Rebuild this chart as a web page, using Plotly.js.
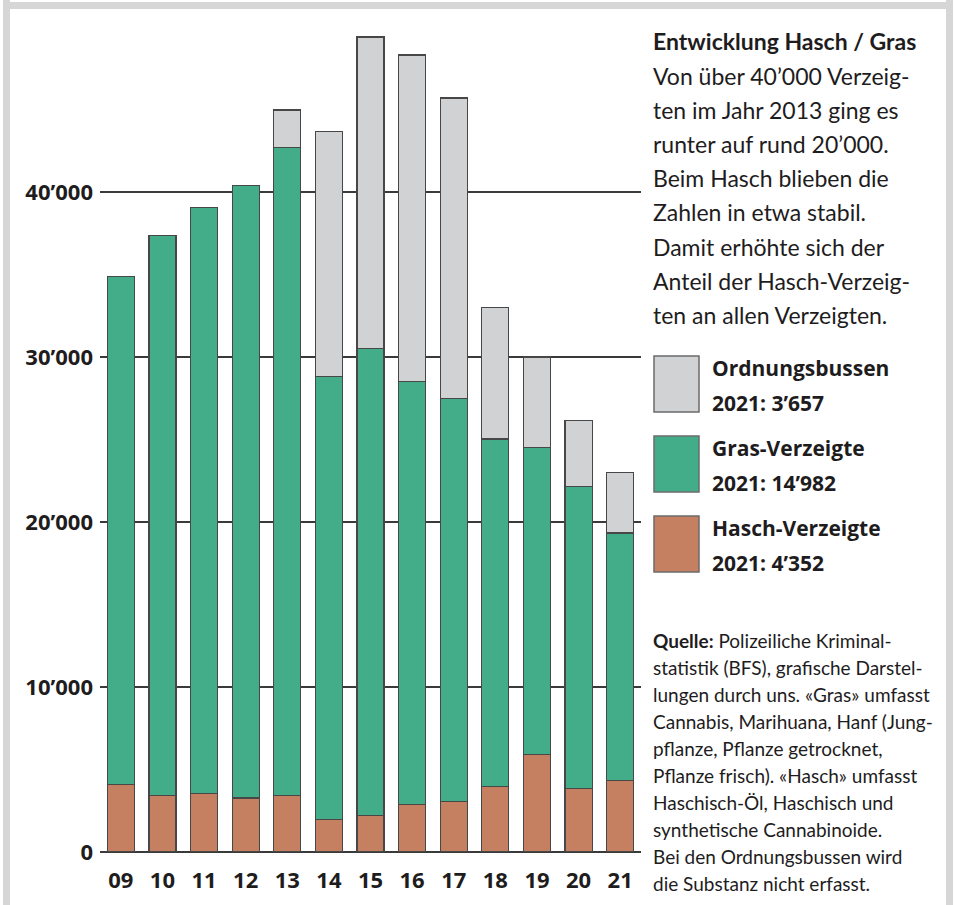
<!DOCTYPE html>
<html>
<head>
<meta charset="utf-8">
<script src="https://cdn.plot.ly/plotly-3.0.1.min.js"></script>
<style>
  html, body { margin: 0; padding: 0; background: #ffffff; }
  #chart { width: 955px; height: 905px; }
</style>
</head>
<body>
<div id="chart"></div>
<script>
// ---- Data ----
const years = ['09', '10', '11', '12', '13', '14', '15', '16', '17', '18', '19', '20', '21'];
const haschVerzeigte = [4080, 3430, 3530, 3270, 3430, 1960, 2220, 2890, 3070, 3960, 5900, 3840, 4352];
const grasVerzeigte = [30820, 33920, 35520, 37130, 39270, 26840, 28280, 25610, 24430, 21070, 18600, 18300, 14982];
const ordnungsbussen = [null, null, null, null, 2270, 14850, 18900, 19800, 18200, 7970, 5500, 4020, 3657];
const yTickVals = [0, 10000, 20000, 30000, 40000];
const yTickText = ['0', '10’000', '20’000', '30’000', '40’000'];
const seriesNames = ['Ordnungsbussen', 'Gras-Verzeigte', 'Hasch-Verzeigte'];

const titleText = 'Entwicklung Hasch / Gras';
const bodyLines = [
  'Von über 40’000 Verzeig-',
  'ten im Jahr 2013 ging es',
  'runter auf rund 20’000.',
  'Beim Hasch blieben die',
  'Zahlen in etwa stabil.',
  'Damit erhöhte sich der',
  'Anteil der Hasch-Verzeig-',
  'ten an allen Verzeigten.'
];
const sourceLines = [
  '<b>Quelle:</b> Polizeiliche Kriminal-',
  'statistik (BFS), grafische Darstel-',
  'lungen durch uns. «Gras» umfasst',
  'Cannabis, Marihuana, Hanf (Jung-',
  'pflanze, Pflanze getrocknet,',
  'Pflanze frisch). «Hasch» umfasst',
  'Haschisch-Öl, Haschisch und',
  'synthetische Cannabinoide.',
  'Bei den Ordnungsbussen wird',
  'die Substanz nicht erfasst.'
];

// ---- Styling ----
const colBussen = '#d1d2d4';
const colGras = '#43ac88';
const colHasch = '#c48060';
const outline = '#474747';
const textCol = '#1e1c1d';

// plot area in pixels: x 100..641, y 27..852
const L = 100, R = 641, T = 27, B = 852;
const px = p => (p - L) / (R - L);
const py = p => (B - p) / (B - T);

function fmt(n) {
  return String(n).replace(/\B(?=(\d{3})+(?!\d))/g, '’');
}
function last(arr) { return arr[arr.length - 1]; }

const barLine = { color: outline, width: 1.2 };
const traces = [
  { type: 'bar', x: years, y: haschVerzeigte, name: seriesNames[2],
    marker: { color: colHasch, line: barLine }, hoverinfo: 'x+y' },
  { type: 'bar', x: years, y: grasVerzeigte, name: seriesNames[1],
    marker: { color: colGras, line: barLine }, hoverinfo: 'x+y' },
  { type: 'bar', x: years, y: ordnungsbussen, name: seriesNames[0],
    marker: { color: colBussen, line: barLine }, hoverinfo: 'x+y' }
];

const annotations = [];
const bodyFont = { family: 'Lato, "Open Sans", sans-serif', size: 23, color: textCol };
annotations.push({ xref: 'paper', yref: 'paper', x: px(651), y: py(41), xanchor: 'left', yanchor: 'middle',
  text: '<b>' + titleText + '</b>', showarrow: false, font: bodyFont });
bodyLines.forEach((t, i) => {
  annotations.push({ xref: 'paper', yref: 'paper', x: px(651), y: py(75.5 + 34.2 * i), xanchor: 'left', yanchor: 'middle',
    text: t, showarrow: false, font: bodyFont });
});
const srcFont = { family: 'Lato, "Open Sans", sans-serif', size: 19, color: textCol };
sourceLines.forEach((t, i) => {
  annotations.push({ xref: 'paper', yref: 'paper', x: px(651), y: py(640 + 27 * i), xanchor: 'left', yanchor: 'middle',
    text: t, showarrow: false, font: srcFont });
});

// legend (custom)
const legendItems = [
  { name: seriesNames[0], val: last(ordnungsbussen), color: colBussen, top: 356 },
  { name: seriesNames[1], val: last(grasVerzeigte), color: colGras, top: 436 },
  { name: seriesNames[2], val: last(haschVerzeigte), color: colHasch, top: 516 }
];
const legFont = { family: '"Open Sans", sans-serif', size: 21, color: textCol };
const shapes = [];
legendItems.forEach(it => {
  shapes.push({ type: 'rect', xref: 'paper', yref: 'paper', x0: px(654), x1: px(699), y0: py(it.top), y1: py(it.top + 56),
    fillcolor: it.color, line: { color: '#6b6b6b', width: 1.5 } });
  annotations.push({ xref: 'paper', yref: 'paper', x: px(710), y: py(it.top + 12), xanchor: 'left', yanchor: 'middle',
    text: '<b>' + it.name + '</b>', showarrow: false, font: legFont });
  annotations.push({ xref: 'paper', yref: 'paper', x: px(710), y: py(it.top + 47), xanchor: 'left', yanchor: 'middle',
    text: '<b>2021: ' + fmt(it.val) + '</b>', showarrow: false, font: legFont });
});

// frame
const frameCol = '#d6d6d6';
shapes.push({ type: 'rect', xref: 'paper', yref: 'paper', x0: px(3), x1: px(10), y0: py(0), y1: py(910), fillcolor: frameCol, line: { width: 0 } });
shapes.push({ type: 'rect', xref: 'paper', yref: 'paper', x0: px(3), x1: px(953), y0: py(2), y1: py(9), fillcolor: frameCol, line: { width: 0 } });
shapes.push({ type: 'rect', xref: 'paper', yref: 'paper', x0: px(946), x1: px(953), y0: py(0), y1: py(910), fillcolor: frameCol, line: { width: 0 } });

const axFont = { family: '"Open Sans", sans-serif', size: 22, color: textCol, weight: 700 };
const layout = {
  width: 955, height: 905,
  margin: { l: L, r: 955 - R, t: T, b: 905 - B, pad: 0 },
  paper_bgcolor: '#ffffff', plot_bgcolor: '#ffffff',
  barmode: 'stack', bargap: 0.35,
  showlegend: false,
  xaxis: {
    type: 'category', range: [-0.5, 12.5], showgrid: false, zeroline: false, showline: false,
    ticks: '', tickfont: axFont, ticklabelstandoff: 13, fixedrange: true
  },
  yaxis: {
    range: [0, 50000], tickvals: yTickVals, ticktext: yTickText,
    showgrid: true, gridcolor: '#3a3a3a', gridwidth: 1.6,
    zeroline: true, zerolinecolor: '#3a3a3a', zerolinewidth: 1.8,
    showline: false, ticks: '', tickfont: axFont, ticklabelstandoff: 6, fixedrange: true
  },
  annotations: annotations,
  shapes: shapes
};

Plotly.newPlot('chart', traces, layout, { displayModeBar: false, staticPlot: true });
</script>
</body>
</html>
